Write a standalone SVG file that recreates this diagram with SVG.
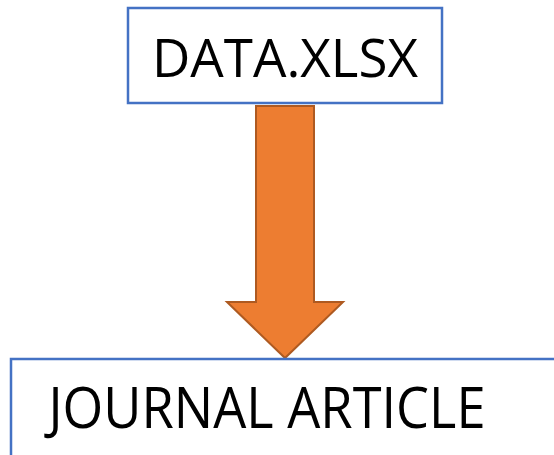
<svg xmlns="http://www.w3.org/2000/svg" width="554" height="455" viewBox="0 0 554 455">
  <style>
    .box { fill: #ffffff; stroke: #4472C4; stroke-width: 2.5; }
    .label { font-family: "Open Sans", "Liberation Sans", sans-serif; fill: #000000; text-anchor: middle; }
    .flow { fill: #ED7D31; stroke: #AE5A21; stroke-width: 2; stroke-linejoin: miter; }
  </style>
  <rect width="554" height="455" fill="#ffffff"/>
  <g id="connectors">
    <path class="flow" d="M256,106 L314,106 L314,302 L343,302 L285,358 L227,302 L256,302 Z"/>
  </g>
  <g id="data-xlsx">
    <rect class="box" x="128" y="8" width="314" height="95"/>
    <text class="label" x="285" y="77" font-size="53" textLength="266" lengthAdjust="spacingAndGlyphs">DATA.XLSX</text>
  </g>
  <g id="journal-article">
    <rect class="box" x="11" y="359" width="560" height="110"/>
    <text class="label" x="267" y="428" font-size="56" textLength="437" lengthAdjust="spacingAndGlyphs">JOURNAL ARTICLE</text>
  </g>
</svg>
